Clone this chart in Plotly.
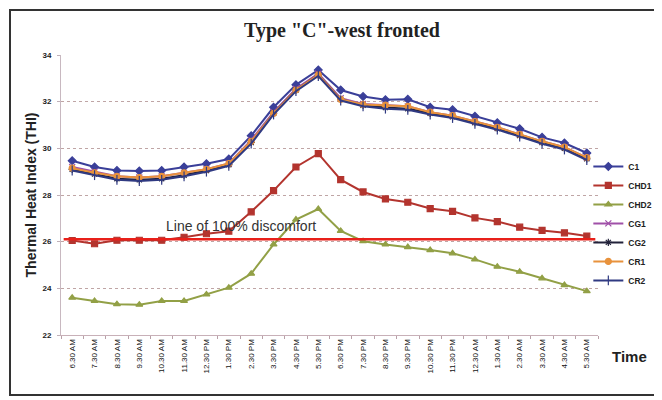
import plotly.graph_objects as go

times = ["6.30 AM", "7.30 AM", "8.30 AM", "9.30 AM", "10.30 AM", "11.30 AM", "12.30 PM",
         "1.30 PM", "2.30 PM", "3.30 PM", "4.30 PM", "5.30 PM", "6.30 PM", "7.30 PM",
         "8.30 PM", "9.30 PM", "10.30 PM", "11.30 PM", "12.30 AM", "1.30 AM", "2.30 AM",
         "3.30 AM", "4.30 AM", "5.30 AM"]

C1 = [29.47, 29.2, 29.05, 29.03, 29.05, 29.2, 29.34, 29.54, 30.54, 31.76, 32.72, 33.36,
      32.5, 32.22, 32.08, 32.1, 31.76, 31.65, 31.37, 31.1, 30.84, 30.47, 30.23, 29.8]
CHD1 = [26.05, 25.91, 26.06, 26.06, 26.06, 26.19, 26.34, 26.45, 27.28, 28.19, 29.2, 29.77,
        28.66, 28.13, 27.83, 27.69, 27.42, 27.3, 27.02, 26.86, 26.62, 26.48, 26.38, 26.24]
CHD2 = [23.6, 23.46, 23.32, 23.3, 23.46, 23.46, 23.74, 24.03, 24.63, 25.88, 26.95, 27.4,
        26.46, 26.02, 25.88, 25.77, 25.64, 25.5, 25.24, 24.93, 24.71, 24.43, 24.14, 23.88]
CG1 = [29.2, 29.0, 28.8, 28.75, 28.8, 28.95, 29.1, 29.35, 30.35, 31.55, 32.55, 33.2,
       32.15, 31.9, 31.85, 31.8, 31.55, 31.4, 31.15, 30.9, 30.6, 30.3, 30.05, 29.6]
CG2 = [29.1, 28.9, 28.7, 28.65, 28.7, 28.85, 29.05, 29.3, 30.25, 31.5, 32.5, 33.15,
       32.1, 31.85, 31.75, 31.7, 31.5, 31.35, 31.1, 30.85, 30.55, 30.25, 30.0, 29.55]
CR1 = [29.15, 28.95, 28.8, 28.75, 28.8, 28.95, 29.1, 29.35, 30.3, 31.5, 32.5, 33.15,
       32.1, 31.88, 31.85, 31.8, 31.55, 31.4, 31.15, 30.9, 30.6, 30.3, 30.05, 29.6]
CR2 = [29.05, 28.85, 28.65, 28.6, 28.65, 28.8, 29.0, 29.25, 30.2, 31.45, 32.45, 33.1,
       32.05, 31.8, 31.7, 31.65, 31.45, 31.3, 31.05, 30.8, 30.5, 30.2, 29.95, 29.5]

discomfort_level = 26.1

series = [
    ("C1", C1, "#3a3f99", "diamond", 6),
    ("CHD1", CHD1, "#b3342e", "square", 6),
    ("CHD2", CHD2, "#92a046", "triangle-up", 6),
    ("CG1", CG1, "#a050a8", "x-thin-open", 6),
    ("CG2", CG2, "#22223a", "asterisk-open", 6),
    ("CR1", CR1, "#e8923c", "circle", 6),
    ("CR2", CR2, "#303a82", "line-ns-open", 7),
]

fig = go.Figure()
for name, vals, color, sym, sz in series:
    fig.add_trace(go.Scatter(
        x=times, y=vals, name="<b>" + name + "</b>", mode="lines+markers",
        line=dict(color=color, width=2),
        marker=dict(symbol=sym, size=sz, color=color, line=dict(color=color, width=1.2)),
    ))

# page has an 8px body margin; figure spans page x 8..662, y 8..400
# border frame (page coords x 8..655, y 8..395; plot area page x 61..598, y 55..335)
fig.add_shape(type="rect", xref="paper", yref="paper",
              x0=(10 - 61) / 537, x1=(655 - 61) / 537,
              y0=(335 - 395) / 280, y1=(335 - 10) / 280,
              line=dict(color="#333333", width=2), layer="below")
# line of 100% discomfort
fig.add_shape(type="line", xref="paper", yref="y", x0=0.005, x1=0.995,
              y0=discomfort_level, y1=discomfort_level,
              line=dict(color="#e8201a", width=2.5))
fig.add_annotation(x=(241 - 61) / 537, xref="paper", y=26.68, yref="y",
                   text="Line of 100% discomfort", showarrow=False,
                   font=dict(family="Liberation Sans, Arial", size=14, color="#333333"))
fig.add_annotation(x=(610 - 61) / 537, xref="paper", y=(335 - 356) / 280, yref="paper",
                   text="<b>Time</b>", showarrow=False, xanchor="left", yanchor="middle",
                   font=dict(family="Liberation Sans, Arial", size=15, color="#222222"))

fig.update_layout(
    width=654, height=392,
    margin=dict(l=53, r=64, t=47, b=65, autoexpand=False),
    paper_bgcolor="white", plot_bgcolor="white",
    title=dict(text="<b>Type \"C\"-west fronted</b>", x=334 / 654, xanchor="center",
               y=1 - 22 / 392, yanchor="middle",
               font=dict(family="Liberation Serif, Times New Roman", size=20, color="#222222")),
    legend=dict(x=0.982, xanchor="left", y=0.654, yanchor="top",
                font=dict(family="Liberation Sans, Arial", size=8.5, color="#222222"),
                bgcolor="rgba(0,0,0,0)", itemwidth=30),
    font=dict(family="Liberation Sans, Arial"),
    showlegend=True,
)
fig.update_xaxes(
    type="category", range=[-0.5, 23.5], tickangle=-90, tickson="boundaries",
    ticks="outside", ticklen=3,
    tickcolor="#b8a0a8", showline=True, linecolor="#c8b0b8", linewidth=1,
    showgrid=False, tickfont=dict(size=8, color="#111111"), automargin=False,
)
fig.update_yaxes(
    range=[22, 34], dtick=2, showline=True, linecolor="#c8b8c0", linewidth=1,
    ticks="outside", ticklen=3, tickcolor="#c0b0b8", ticklabelstandoff=4,
    showgrid=True, gridcolor="#bfa5a5", griddash="dot", gridwidth=1,
    tickfont=dict(size=8, color="#222222", family="Liberation Sans, Arial"),
    tickprefix="<b>", ticksuffix="</b>", automargin=False,
    title=dict(text="<b>Thermal Heat Index (THI)</b>", standoff=2,
               font=dict(size=14, color="#222222", family="Liberation Sans, Arial")),
    zeroline=False,
)

fig.write_html("out.html")
